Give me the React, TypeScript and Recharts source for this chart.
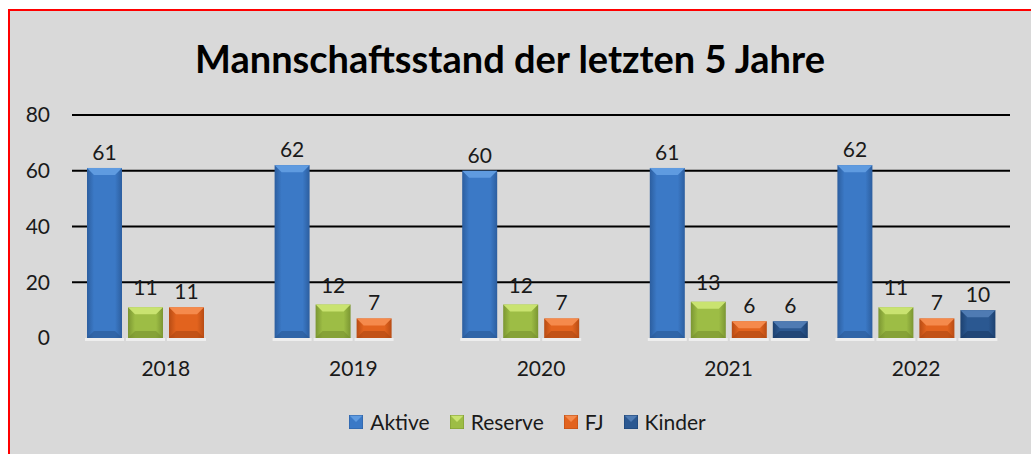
import { BarChart, Bar, XAxis, YAxis, CartesianGrid, LabelList, Legend } from 'recharts';

const years = ['2018', '2019', '2020', '2021', '2022'];
const aktive = [61, 62, 60, 61, 62];
const reserve = [11, 12, 12, 13, 11];
const fj = [11, 7, 7, 6, 7];
const kinder = [null, null, null, 6, 10];
const yTicks = [0, 20, 40, 60, 80];

const data = years.map((year, i) => ({
  year,
  Aktive: aktive[i],
  Reserve: reserve[i],
  FJ: fj[i],
  Kinder: kinder[i],
}));

const FONT = 'Lato, "Open Sans", sans-serif';

type Tone = { id: string; edge: string; mid: string; top: string; bottom: string };

const tones: Record<string, Tone> = {
  Aktive: { id: 'aktive', edge: '#2c5e9f', mid: '#3b79c6', top: '#5f9be0', bottom: '#2a5994' },
  Reserve: { id: 'reserve', edge: '#7b9632', mid: '#9dbd45', top: '#c9e370', bottom: '#76902f' },
  FJ: { id: 'fj', edge: '#b84c14', mid: '#e2631e', top: '#f58a4c', bottom: '#ad4712' },
  Kinder: { id: 'kinder', edge: '#1d4170', mid: '#2b5891', top: '#4f7bb3', bottom: '#1a3b66' },
};

const makeShape = (t: Tone) => (props: any) => {
  const { x, y, width, height } = props;
  if (height == null || height <= 0) return <g />;
  const b = Math.min(7, height / 2, width / 2);
  const gid = `grad-${t.id}`;
  return (
    <g>
      <defs>
        <linearGradient id={gid} x1="0" y1="0" x2="1" y2="0">
          <stop offset="0%" stopColor={t.edge} />
          <stop offset="20%" stopColor={t.mid} />
          <stop offset="80%" stopColor={t.mid} />
          <stop offset="100%" stopColor={t.edge} />
        </linearGradient>
      </defs>
      <rect x={x - 2} y={y + height} width={width + 4} height={3} fill="#f2f2f2" opacity={0.8} />
      <rect x={x} y={y} width={width} height={height} fill={`url(#${gid})`} />
      <polygon
        points={`${x},${y} ${x + width},${y} ${x + width - b},${y + b} ${x + b},${y + b}`}
        fill={t.top}
      />
      <polygon
        points={`${x},${y + height} ${x + width},${y + height} ${x + width - b},${y + height - b} ${x + b},${y + height - b}`}
        fill={t.bottom}
        opacity={0.6}
      />
    </g>
  );
};

const series = ['Aktive', 'Reserve', 'FJ', 'Kinder'];

const LegendContent = () => (
  <div
    style={{
      display: 'flex',
      justifyContent: 'center',
      alignItems: 'center',
      paddingLeft: 34,
      fontFamily: FONT,
      fontSize: 21,
      color: '#1a1a1a',
    }}
  >
    {series.map((s) => {
      const t = tones[s];
      return (
        <div key={s} style={{ display: 'flex', alignItems: 'center', marginRight: 20 }}>
          <svg width={14} height={14} style={{ marginRight: 7 }}>
            <rect x={0} y={0} width={14} height={14} fill={t.mid} />
            <polygon points="0,0 14,0 7,7" fill={t.top} />
            <rect x={0} y={0} width={14} height={14} fill="none" stroke={t.edge} strokeWidth={1} />
          </svg>
          <span>{s}</span>
        </div>
      );
    })}
  </div>
);

export default function App() {
  return (
    <div
      style={{
        position: 'absolute',
        left: 8,
        top: 9,
        width: 1021,
        height: 443,
        borderLeft: '2px solid #ff0000',
        borderTop: '2px solid #ff0000',
        background: '#d9d9d9',
        overflow: 'hidden',
      }}
    >
      <div
        style={{
          position: 'absolute',
          left: 0,
          top: 28,
          width: 1000,
          textAlign: 'center',
          fontFamily: FONT,
          fontWeight: 700,
          fontSize: 38,
          lineHeight: '38px',
          color: '#000',
        }}
      >
        Mannschaftsstand der letzten 5 Jahre
      </div>
      <BarChart
        width={1021}
        height={443}
        data={data}
        margin={{ top: 104, right: 21, bottom: 86, left: 0 }}
        barCategoryGap={15}
        barGap={6}
        style={{ fontFamily: FONT }}
      >
        <CartesianGrid vertical={false} horizontalValues={[20, 40, 60, 80]} stroke="#000" strokeWidth={2} />
        <XAxis
          dataKey="year"
          axisLine={false}
          tickLine={false}
          tickMargin={17}
          tick={{ fill: '#1a1a1a', fontSize: 21 }}
        />
        <YAxis
          width={62}
          domain={[0, 80]}
          ticks={yTicks}
          axisLine={false}
          tickLine={false}
          tickMargin={16}
          tick={{ fill: '#1a1a1a', fontSize: 21 }}
        />
        <Legend
          verticalAlign="middle"
          align="center"
          wrapperStyle={{ top: 398, left: 0, width: 1021 }}
          content={LegendContent}
        />
        {series.map((s) => (
          <Bar key={s} dataKey={s} fill={tones[s].mid} shape={makeShape(tones[s])} isAnimationActive={false}>
            <LabelList
              dataKey={s}
              position="top"
              offset={s === 'Reserve' ? 12 : 8}
              fill="#1a1a1a"
              fontSize={21}
            />
          </Bar>
        ))}
      </BarChart>
    </div>
  );
}
